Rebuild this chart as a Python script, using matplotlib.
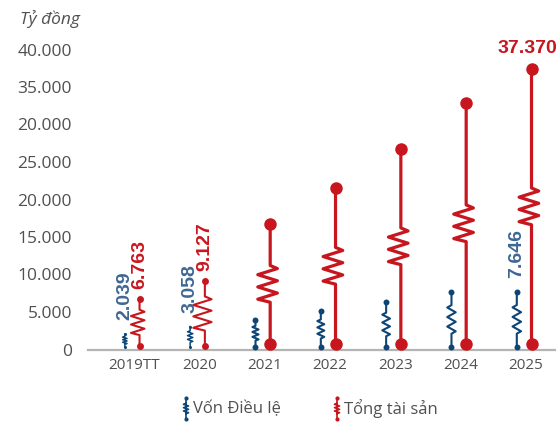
import matplotlib
matplotlib.use("Agg")
import matplotlib.pyplot as plt
from matplotlib.lines import Line2D
import numpy as np

years = ["2019TT", "2020", "2021", "2022", "2023", "2024", "2025"]
von_dieu_le = [2039, 3058, 3950, 5070, 6280, 7620, 7646]
tong_tai_san = [6763, 9127, 16700, 21530, 26730, 32860, 37370]
labeled = [0, 1, 6]
y_ticks = [0, 5000, 10000, 15000, 20000, 25000, 30000, 35000, 40000]
y_tick_labels = ["0", "5.000", "10.000", "15.000", "20.000", "25.000",
                 "20.000", "35.000", "40.000"]

RED = "#c8161e"
BLUE = "#0d4676"
BLUE_TXT = "#3f6794"
GREY = "#505050"
FONT = "Open Sans"
NUM_FONT = "Liberation Sans"

W, H = 556, 424


def resistor(x, y0, y1, h, wr, wl, first_right=True):
    # lead - zigzag - lead, zigzag centred between y0 and y1
    yc = (y0 + y1) / 2
    top, bot = yc + h / 2, yc - h / 2
    t = np.array([0, 1, 3, 5, 7, 9, 11, 12]) / 12
    sign = [0, 1, -1, 1, -1, 1, -1, 0]
    if not first_right:
        sign = [-s for s in sign]
    xs = [x] + [x + (wr if s > 0 else -wl if s < 0 else 0) for s in sign] + [x]
    ys = [y1] + list(top - t * (top - bot)) + [y0]
    return xs, ys


def fmt(v):
    return f"{v:,}".replace(",", ".")


fig = plt.figure(figsize=(W / 100, H / 100), dpi=100)
ax = fig.add_axes([88 / W, (H - 349.5) / H, 468 / W, 300 / H])
ax.set_xlim(-0.704, 6.46)
ax.set_ylim(0, 40000)

for s in ["top", "right", "left"]:
    ax.spines[s].set_visible(False)
ax.spines["bottom"].set_color("#b4b4b4")
ax.spines["bottom"].set_linewidth(1.6)

ax.set_yticks(y_ticks)
ax.set_yticklabels(y_tick_labels, fontfamily=FONT, fontsize=12.5, color=GREY)
ax.set_xticks(range(len(years)))
ax.set_xticklabels(years, fontfamily=FONT, fontsize=11, color=GREY)
ax.tick_params(axis="y", length=0, pad=11.5)
ax.tick_params(axis="x", length=0, pad=6)

# Tổng tài sản
for i, v in enumerate(tong_tai_san):
    x = i + 0.085
    big = v >= 10000
    h = min(0.5 * v, 4900)
    k = h / 4900
    base = 800 if big else 470
    xs, ys = resistor(x, base, v, h, 0.11 * k, 0.19 * k)
    ax.plot(xs, ys, color=RED, lw=2.3 if big else 1.5, clip_on=False, zorder=3)
    ax.plot([x, x], [base, v], "o", ms=9 if big else 5, color=RED,
            mec="none", clip_on=False, zorder=4)

# Vốn điều lệ
for i, v in enumerate(von_dieu_le):
    x = i - 0.14
    h = 0.5 * v
    k = np.sqrt(h / 3823)
    base = 400
    xs, ys = resistor(x, base, v, h, 0.065 * k, 0.065 * k, first_right=False)
    ax.plot(xs, ys, color=BLUE, lw=1.5 if v >= 3500 else 1.1, clip_on=False, zorder=3)
    ax.plot([x, x], [base, v], "o", ms=4.3 if v >= 3500 else 2.2, color=BLUE,
            mec="none", clip_on=False, zorder=4)

# value labels
for i in labeled:
    v = tong_tai_san[i]
    last = i == len(years) - 1
    ax.annotate(fmt(v), (i + 0.085, v), xytext=(-3 if last else 0, 9 if last else 7),
                textcoords="offset points", rotation=0 if last else 90,
                ha="center", va="bottom", color=RED, fontweight="bold",
                fontfamily=NUM_FONT, fontsize=14, annotation_clip=False)
    v = von_dieu_le[i]
    ax.annotate(fmt(v), (i - 0.14, v), xytext=(0, 10),
                textcoords="offset points", rotation=90,
                ha="center", va="bottom", color=BLUE_TXT, fontweight="bold",
                fontfamily=NUM_FONT, fontsize=14, annotation_clip=False)

fig.text(20 / W, 1 - 19 / H, "Tỷ đồng", fontfamily=FONT, style="italic",
         fontsize=12.5, color=GREY, ha="left", va="center")

# legend
for xc, color, label in [(186, BLUE, "Vốn Điều lệ"), (337, RED, "Tổng tài sản")]:
    xs, ys = resistor(xc, 419, 398, 10, 2.5, 2.5)
    fxs = [x / W for x in xs]
    fys = [1 - y / H for y in ys]
    fig.add_artist(Line2D(fxs, fys, color=color, lw=1.2, transform=fig.transFigure))
    fig.add_artist(Line2D([xc / W] * 2, [1 - 398 / H, 1 - 419 / H], ls="none",
                          marker="o", ms=3, color=color, mec="none",
                          transform=fig.transFigure))
    fig.text((xc + 7) / W, 1 - 409 / H, label, fontfamily=FONT, fontsize=12,
             color=GREY, ha="left", va="center")

fig.savefig("out.png", dpi=100)
